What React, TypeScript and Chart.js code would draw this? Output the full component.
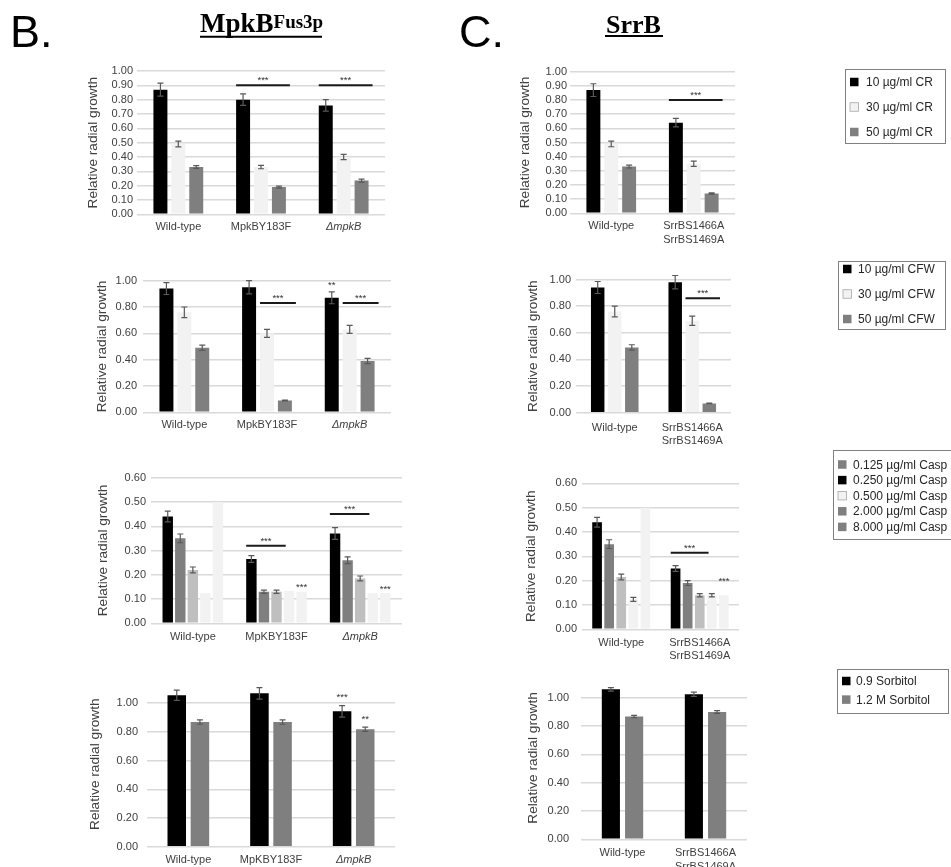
import React, { useEffect, useRef } from 'react';
import { Chart, registerables } from 'chart.js';

Chart.register(...registerables);
Chart.defaults.font.family = "'Liberation Sans', Arial, sans-serif";

// ---------- categories ----------
const strainsB12 = ['Wild-type', 'MpkBY183F', 'ΔmpkB'];
const strainsB34 = ['Wild-type', 'MpKBY183F', 'ΔmpkB'];
const strainsC = ['Wild-type', ['SrrBS1466A', 'SrrBS1469A']];

// ---------- series names ----------
const crLabels = ['10 µg/ml CR', '30 µg/ml CR', '50 µg/ml CR'];
const cfwLabels = ['10 µg/ml CFW', '30 µg/ml CFW', '50 µg/ml CFW'];
const caspLabels = ['0.125 µg/ml Casp', '0.250 µg/ml Casp', '0.500 µg/ml Casp', '2.000 µg/ml Casp', '8.000 µg/ml Casp'];
const sorbLabels = ['0.9 Sorbitol', '1.2 M Sorbitol'];

// ---------- y tick labels ----------
const ticksTenth = [0, 0.1, 0.2, 0.3, 0.4, 0.5, 0.6, 0.7, 0.8, 0.9, 1.0];
const ticksFifth = [0, 0.2, 0.4, 0.6, 0.8, 1.0];
const ticksCasp = [0, 0.1, 0.2, 0.3, 0.4, 0.5, 0.6];

// ---------- B: MpkB, Congo red ----------
const bCR10 = [0.87, 0.80, 0.76];
const bCR10Err = [0.045, 0.04, 0.04];
const bCR30 = [0.49, 0.33, 0.40];
const bCR30Err = [0.02, 0.012, 0.018];
const bCR50 = [0.33, 0.19, 0.235];
const bCR50Err = [0.01, 0.007, 0.01];

// ---------- C: SrrB, Congo red ----------
const cCR10 = [0.87, 0.64];
const cCR10Err = [0.045, 0.03];
const cCR30 = [0.49, 0.35];
const cCR30Err = [0.02, 0.018];
const cCR50 = [0.33, 0.14];
const cCR50Err = [0.01, 0.004];

// ---------- B: CFW ----------
const bCFW10 = [0.94, 0.95, 0.87];
const bCFW10Err = [0.045, 0.05, 0.045];
const bCFW30 = [0.76, 0.60, 0.63];
const bCFW30Err = [0.04, 0.03, 0.03];
const bCFW50 = [0.49, 0.09, 0.39];
const bCFW50Err = [0.02, 0.003, 0.02];

// ---------- C: CFW ----------
const cCFW10 = [0.94, 0.98];
const cCFW10Err = [0.045, 0.05];
const cCFW30 = [0.76, 0.69];
const cCFW30Err = [0.04, 0.035];
const cCFW50 = [0.49, 0.07];
const cCFW50Err = [0.02, 0.002];

// ---------- B: Caspofungin ----------
const bCasp0125 = [0.44, 0.265, 0.37];
const bCasp0125Err = [0.022, 0.014, 0.024];
const bCasp0250 = [0.35, 0.13, 0.26];
const bCasp0250Err = [0.018, 0.007, 0.014];
const bCasp0500 = [0.22, 0.13, 0.185];
const bCasp0500Err = [0.012, 0.007, 0.01];
const bCasp2000 = [0.125, 0.133, 0.125];
const bCasp2000Err = [0, 0, 0];
const bCasp8000 = [0.50, 0.13, 0.125];
const bCasp8000Err = [0, 0, 0];

// ---------- C: Caspofungin ----------
const cCasp0125 = [0.44, 0.25];
const cCasp0125Err = [0.02, 0.012];
const cCasp0250 = [0.35, 0.19];
const cCasp0250Err = [0.018, 0.01];
const cCasp0500 = [0.215, 0.14];
const cCasp0500Err = [0.012, 0.007];
const cCasp2000 = [0.123, 0.14];
const cCasp2000Err = [0.008, 0.007];
const cCasp8000 = [0.50, 0.14];
const cCasp8000Err = [0, 0];

// ---------- B: Sorbitol ----------
const bSorb09 = [1.055, 1.068, 0.943];
const bSorb09Err = [0.036, 0.04, 0.04];
const bSorb12 = [0.868, 0.868, 0.818];
const bSorb12Err = [0.015, 0.015, 0.015];

// ---------- C: Sorbitol ----------
const cSorb09 = [1.06, 1.025];
const cSorb09Err = [0.012, 0.015];
const cSorb12 = [0.868, 0.90];
const cSorb12Err = [0.008, 0.01];

// ---------- styles ----------
const BLACK = '#000000';
const GRAY = '#7f7f7f';
const SILVER = '#bfbfbf';
const LIGHT = '#f2f2f2';
const TEXT = '#404040';
const TITLE_SIZE = 13.7;
const TITLE_HALF = (TITLE_SIZE * 1.2) / 2;

type SigLine = { cat: number; from: number; to: number; y: number; text: string };
type Star = { cat: number; bar: number; y: number; text: string };
type Geom = {
  plotLeft: number; plotRight: number; top: number; bottom: number;
  titleX: number; tickRight: number; labelOff: number;
};
type Panel = {
  cats: (string | string[])[];
  names: string[];
  series: number[][];
  errors: number[][];
  colors: string[];
  yMax: number;
  yTicks: number[];
  catPct: number;
  barPct: number;
  italicIdx: number;
  lines: SigLine[];
  stars: Star[];
  geom: Geom;
};

const panels: Panel[] = [
  {
    cats: strainsB12, names: crLabels,
    series: [bCR10, bCR30, bCR50], errors: [bCR10Err, bCR30Err, bCR50Err],
    colors: [BLACK, LIGHT, GRAY], yMax: 1.0, yTicks: ticksTenth,
    catPct: 0.65, barPct: 0.78, italicIdx: 2,
    lines: [
      { cat: 1, from: 0, to: 2, y: 0.9, text: '***' },
      { cat: 2, from: 0, to: 2, y: 0.9, text: '***' },
    ],
    stars: [],
    geom: { plotLeft: 137, plotRight: 385, top: 71, bottom: 214.3, titleX: 93, tickRight: 133, labelOff: 12.5 },
  },
  {
    cats: strainsC, names: crLabels,
    series: [cCR10, cCR30, cCR50], errors: [cCR10Err, cCR30Err, cCR50Err],
    colors: [BLACK, LIGHT, GRAY], yMax: 1.0, yTicks: ticksTenth,
    catPct: 0.65, barPct: 0.78, italicIdx: -1,
    lines: [{ cat: 1, from: 0, to: 2, y: 0.8, text: '***' }],
    stars: [],
    geom: { plotLeft: 570, plotRight: 735, top: 71.7, bottom: 213.3, titleX: 525, tickRight: 567, labelOff: 13 },
  },
  {
    cats: strainsB12, names: cfwLabels,
    series: [bCFW10, bCFW30, bCFW50], errors: [bCFW10Err, bCFW30Err, bCFW50Err],
    colors: [BLACK, LIGHT, GRAY], yMax: 1.0, yTicks: ticksFifth,
    catPct: 0.65, barPct: 0.78, italicIdx: 2,
    lines: [
      { cat: 1, from: 1, to: 2, y: 0.83, text: '***' },
      { cat: 2, from: 1, to: 2, y: 0.83, text: '***' },
    ],
    stars: [{ cat: 2, bar: 0, y: 0.98, text: '**' }],
    geom: { plotLeft: 143, plotRight: 391, top: 280.7, bottom: 412.3, titleX: 102, tickRight: 137, labelOff: 12.7 },
  },
  {
    cats: strainsC, names: cfwLabels,
    series: [cCFW10, cCFW30, cCFW50], errors: [cCFW10Err, cCFW30Err, cCFW50Err],
    colors: [BLACK, LIGHT, GRAY], yMax: 1.0, yTicks: ticksFifth,
    catPct: 0.66, barPct: 0.79, italicIdx: -1,
    lines: [{ cat: 1, from: 1, to: 2, y: 0.86, text: '***' }],
    stars: [],
    geom: { plotLeft: 576, plotRight: 731, top: 279.5, bottom: 412.7, titleX: 533, tickRight: 571, labelOff: 15.5 },
  },
  {
    cats: strainsB34, names: caspLabels,
    series: [bCasp0125, bCasp0250, bCasp0500, bCasp2000, bCasp8000],
    errors: [bCasp0125Err, bCasp0250Err, bCasp0500Err, bCasp2000Err, bCasp8000Err],
    colors: [BLACK, GRAY, SILVER, LIGHT, LIGHT], yMax: 0.6, yTicks: ticksCasp,
    catPct: 0.75, barPct: 0.83, italicIdx: 2,
    lines: [
      { cat: 1, from: 0, to: 2, y: 0.32, text: '***' },
      { cat: 2, from: 0, to: 2, y: 0.45, text: '***' },
    ],
    stars: [
      { cat: 1, bar: 4, y: 0.158, text: '***' },
      { cat: 2, bar: 4, y: 0.151, text: '***' },
    ],
    geom: { plotLeft: 151, plotRight: 402, top: 477.7, bottom: 623.3, titleX: 103, tickRight: 146, labelOff: 13.7 },
  },
  {
    cats: strainsC, names: caspLabels,
    series: [cCasp0125, cCasp0250, cCasp0500, cCasp2000, cCasp8000],
    errors: [cCasp0125Err, cCasp0250Err, cCasp0500Err, cCasp2000Err, cCasp8000Err],
    colors: [BLACK, GRAY, SILVER, LIGHT, LIGHT], yMax: 0.6, yTicks: ticksCasp,
    catPct: 0.77, barPct: 0.8, italicIdx: -1,
    lines: [{ cat: 1, from: 0, to: 2, y: 0.315, text: '***' }],
    stars: [{ cat: 1, bar: 4, y: 0.207, text: '***' }],
    geom: { plotLeft: 582, plotRight: 739, top: 483.3, bottom: 629.3, titleX: 531, tickRight: 577, labelOff: 13.7 },
  },
  {
    cats: strainsB34, names: sorbLabels,
    series: [bSorb09, bSorb12], errors: [bSorb09Err, bSorb12Err],
    colors: [BLACK, GRAY], yMax: 1.15, yTicks: ticksFifth,
    catPct: 0.56, barPct: 0.8, italicIdx: 2,
    lines: [],
    stars: [
      { cat: 2, bar: 0, y: 1.06, text: '***' },
      { cat: 2, bar: 1, y: 0.9, text: '**' },
    ],
    geom: { plotLeft: 147, plotRight: 395, top: 678.8, bottom: 846.7, titleX: 95, tickRight: 138, labelOff: 13.3 },
  },
  {
    cats: strainsC, names: sorbLabels,
    series: [cSorb09, cSorb12], errors: [cSorb09Err, cSorb12Err],
    colors: [BLACK, GRAY], yMax: 1.15, yTicks: ticksFifth,
    catPct: 0.56, barPct: 0.78, italicIdx: -1,
    lines: [],
    stars: [],
    geom: { plotLeft: 581, plotRight: 747, top: 670.6, bottom: 839.3, titleX: 533, tickRight: 569, labelOff: 14 },
  },
];

type LegendSpec = {
  x: number; y: number; w: number; h: number;
  labels: string[]; colors: string[];
  row0: number; step: number; swX: number; txX: number;
};

const legends: LegendSpec[] = [
  { x: 845, y: 69, w: 100, h: 74, labels: crLabels, colors: [BLACK, LIGHT, GRAY], row0: 82, step: 25, swX: 850, txX: 866 },
  { x: 838, y: 261, w: 107, h: 68, labels: cfwLabels, colors: [BLACK, LIGHT, GRAY], row0: 269, step: 25, swX: 843, txX: 858 },
  { x: 833, y: 450, w: 200, h: 89, labels: caspLabels, colors: [GRAY, BLACK, LIGHT, GRAY, GRAY], row0: 464.5, step: 15.6, swX: 838, txX: 853 },
  { x: 837, y: 669, w: 111, h: 44, labels: sorbLabels, colors: [BLACK, GRAY], row0: 681, step: 18.6, swX: 842, txX: 856 },
];

function geomOf(p: Panel) {
  const g = p.geom;
  const cl = Math.floor(g.titleX - TITLE_HALF);
  const titlePad = g.titleX - TITLE_HALF - cl;
  const ct = Math.floor(g.top) - 12;
  const padTop = g.top - ct;
  const plotH = g.bottom - g.top;
  const ch = Math.ceil(g.bottom - ct + 44);
  const xH = ch - padTop - plotH;
  const yW = g.plotLeft - cl;
  const cw = Math.ceil(g.plotRight - cl + 8);
  const padRight = cw - (g.plotRight - cl);
  return { cl, ct, cw, ch, titlePad, padTop, xH, yW, padRight };
}

function overlayPlugin(p: Panel) {
  return {
    id: 'overlay',
    afterDatasetsDraw(chart: any) {
      const ctx: CanvasRenderingContext2D = chart.ctx;
      const ys = chart.scales.y;
      ctx.save();
      // error bars
      ctx.strokeStyle = '#595959';
      ctx.lineWidth = 1.2;
      p.series.forEach((vals, di) => {
        const meta = chart.getDatasetMeta(di);
        vals.forEach((v, j) => {
          const e = p.errors[di][j];
          if (!e) return;
          const el: any = meta.data[j];
          const x = el.x;
          const y1 = ys.getPixelForValue(v + e);
          const y2 = ys.getPixelForValue(v - e);
          ctx.beginPath();
          ctx.moveTo(x, y1); ctx.lineTo(x, y2);
          ctx.moveTo(x - 3, y1); ctx.lineTo(x + 3, y1);
          ctx.moveTo(x - 3, y2); ctx.lineTo(x + 3, y2);
          ctx.stroke();
        });
      });
      ctx.font = "9.5px 'Liberation Sans', Arial, sans-serif";
      ctx.textAlign = 'center';
      ctx.textBaseline = 'alphabetic';
      // significance lines
      p.lines.forEach((l) => {
        const a: any = chart.getDatasetMeta(l.from).data[l.cat];
        const b: any = chart.getDatasetMeta(l.to).data[l.cat];
        const x1 = a.x - a.width / 2;
        const x2 = b.x + b.width / 2 + 4;
        const yy = ys.getPixelForValue(l.y);
        ctx.strokeStyle = '#1a1a1a';
        ctx.lineWidth = 2;
        ctx.beginPath();
        ctx.moveTo(x1, yy); ctx.lineTo(x2, yy);
        ctx.stroke();
        ctx.fillStyle = '#333333';
        ctx.fillText(l.text, (x1 + x2) / 2, yy - 2);
      });
      // stars
      p.stars.forEach((s) => {
        const el: any = chart.getDatasetMeta(s.bar).data[s.cat];
        ctx.fillStyle = '#333333';
        ctx.fillText(s.text, el.x, ys.getPixelForValue(s.y) + 5);
      });
      ctx.restore();
    },
  };
}

function BarPanel({ p }: { p: Panel }) {
  const ref = useRef<HTMLCanvasElement>(null);
  const G = geomOf(p);
  useEffect(() => {
    if (!ref.current) return;
    const chart = new Chart(ref.current, {
      type: 'bar',
      data: {
        labels: p.cats as any,
        datasets: p.series.map((data, i) => ({
          label: p.names[i],
          data,
          backgroundColor: p.colors[i],
          borderWidth: 0,
          categoryPercentage: p.catPct,
          barPercentage: p.barPct,
        })),
      },
      options: {
        responsive: false,
        animation: false,
        events: [],
        layout: { padding: { left: 0, top: G.padTop, right: G.padRight, bottom: 0 } },
        plugins: { legend: { display: false }, tooltip: { enabled: false } },
        scales: {
          x: {
            grid: { display: false, drawTicks: false },
            border: { display: false },
            afterFit: (s: any) => { s.height = G.xH; },
            ticks: {
              autoSkip: false,
              maxRotation: 0,
              minRotation: 0,
              padding: p.geom.labelOff - 6.6,
              color: TEXT,
              font: (c: any) => ({ size: 11, style: c.index === p.italicIdx ? 'italic' : 'normal' }),
            },
          },
          y: {
            min: 0,
            max: p.yMax,
            afterBuildTicks: (axis: any) => { axis.ticks = p.yTicks.map((v) => ({ value: v })); },
            afterFit: (s: any) => { s.width = G.yW; },
            grid: { color: '#d9d9d9', lineWidth: 1.4, drawTicks: false },
            border: { display: false },
            ticks: {
              autoSkip: false,
              padding: p.geom.plotLeft - p.geom.tickRight,
              color: TEXT,
              font: { size: 11 },
              callback: (v: any) => Number(v).toFixed(2),
            },
            title: {
              display: true,
              text: 'Relative radial growth',
              color: TEXT,
              font: { size: TITLE_SIZE },
              padding: { top: G.titlePad, bottom: 0 },
            },
          },
        },
      } as any,
      plugins: [overlayPlugin(p)],
    });
    return () => chart.destroy();
  }, []);
  return (
    <canvas
      ref={ref}
      width={G.cw}
      height={G.ch}
      style={{ position: 'absolute', left: G.cl, top: G.ct, width: G.cw, height: G.ch }}
    />
  );
}

function Legends() {
  return (
    <>
      {legends.map((L, li) => (
        <g key={li}>
          <rect x={L.x + 0.5} y={L.y + 0.5} width={L.w} height={L.h} fill="#ffffff" stroke="#808080" strokeWidth={1} />
          {L.labels.map((t, i) => {
            const cy = L.row0 + i * L.step;
            const col = L.colors[i];
            return (
              <g key={i}>
                <rect
                  x={L.swX}
                  y={cy - 4.25}
                  width={8.5}
                  height={8.5}
                  fill={col}
                  stroke={col === LIGHT ? '#a6a6a6' : 'none'}
                  strokeWidth={0.8}
                />
                <text x={L.txX} y={cy} dominantBaseline="central" fontSize={12} fill="#262626"
                  fontFamily="'Liberation Sans', Arial, sans-serif">{t}</text>
              </g>
            );
          })}
        </g>
      ))}
    </>
  );
}

export default function App() {
  return (
    <div style={{ position: 'fixed', left: 0, top: 0, width: 951, height: 867, overflow: 'hidden', background: '#ffffff' }}>
      {panels.map((p, i) => (
        <BarPanel key={i} p={p} />
      ))}
      <svg width={951} height={867} style={{ position: 'absolute', left: 0, top: 0, pointerEvents: 'none' }}>
        <text x={10} y={47} fontSize={45} fontFamily="'Liberation Sans', Arial, sans-serif" fill="#000">B.</text>
        <text x={459} y={47} fontSize={45} fontFamily="'Liberation Sans', Arial, sans-serif" fill="#000">C.</text>
        <text x={200} y={32} fontSize={27} fontWeight="bold" fontFamily="'Liberation Serif', 'Times New Roman', serif" fill="#000">
          MpkB<tspan fontSize={19} dy={-4.5}>Fus3p</tspan>
        </text>
        <line x1={200} x2={322} y1={36.7} y2={36.7} stroke="#000" strokeWidth={2} />
        <text x={606} y={33} fontSize={26} fontWeight="bold" fontFamily="'Liberation Serif', 'Times New Roman', serif" fill="#000">SrrB</text>
        <line x1={605} x2={663} y1={36} y2={36} stroke="#000" strokeWidth={2} />
        <Legends />
      </svg>
    </div>
  );
}
